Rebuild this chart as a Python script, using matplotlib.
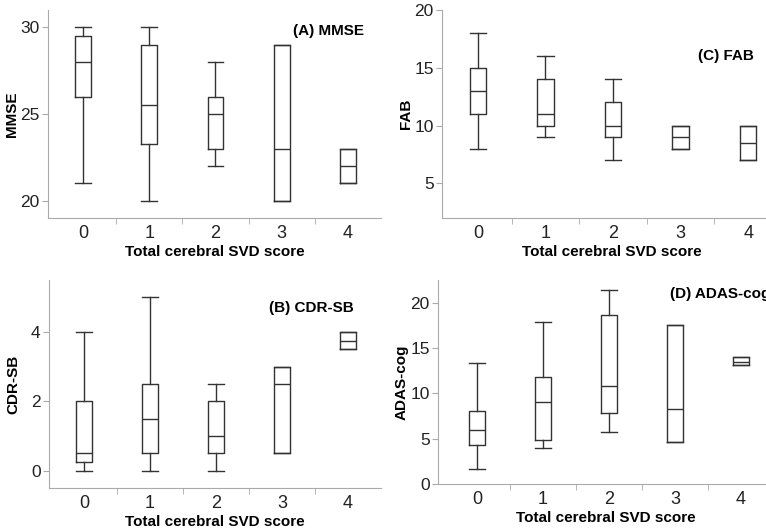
import matplotlib.pyplot as plt
from matplotlib.ticker import FixedLocator

plt.rcParams['font.family'] = ['Liberation Sans', 'DejaVu Sans']

scores = [0, 1, 2, 3, 4]

# each panel: whisker low, q1, median, q3, whisker high
mmse_lo = [21, 20, 22, 20, 21]
mmse_q1 = [26, 23.25, 23, 20, 21]
mmse_med = [28, 25.5, 25, 23, 22]
mmse_q3 = [29.5, 29, 26, 29, 23]
mmse_hi = [30, 30, 28, 29, 23]

cdr_lo = [0, 0, 0, 0.5, 3.5]
cdr_q1 = [0.25, 0.5, 0.5, 0.5, 3.5]
cdr_med = [0.5, 1.5, 1.0, 2.5, 3.75]
cdr_q3 = [2, 2.5, 2, 3, 4]
cdr_hi = [4, 5, 2.5, 3, 4]

fab_lo = [8, 9, 7, 8, 7]
fab_q1 = [11, 10, 9, 8, 7]
fab_med = [13, 11, 10, 9, 8.5]
fab_q3 = [15, 14, 12, 10, 10]
fab_hi = [18, 16, 14, 10, 10]

adas_lo = [1.7, 4.0, 5.7, 4.6, 13.1]
adas_q1 = [4.3, 4.9, 7.8, 4.6, 13.1]
adas_med = [6.0, 9.0, 10.8, 8.3, 13.5]
adas_q3 = [8.0, 11.8, 18.6, 17.5, 14.0]
adas_hi = [13.3, 17.9, 21.4, 17.5, 14.0]


def make_stats(lo, q1, med, q3, hi):
    return [dict(whislo=a, q1=b, med=c, q3=d, whishi=e, fliers=[])
            for a, b, c, d, e in zip(lo, q1, med, q3, hi)]


W, H = 766, 531
fig = plt.figure(figsize=(W / 100, H / 100), dpi=100)


def rect(left, right, top, bottom):
    return [left / W, (H - bottom) / H, (right - left) / W, (bottom - top) / H]


def draw_panel(box, stats, ylabel, title, ylim, yticks, xlim, title_xy):
    ax = fig.add_axes(rect(*box))
    lp = dict(color='#333333', linewidth=1.0)
    ax.bxp(stats, positions=scores, widths=0.24, showfliers=False,
           boxprops=lp, whiskerprops=lp, capprops=lp, medianprops=lp,
           capwidths=0.24)
    ax.set_xlim(*xlim)
    ax.set_ylim(*ylim)
    ax.set_yticks(yticks)
    ax.set_xticks(scores)
    ax.set_xticklabels([str(s) for s in scores])
    ax.xaxis.set_minor_locator(FixedLocator([0.5, 1.5, 2.5, 3.5]))
    ax.tick_params(axis='x', which='major', length=0, labelsize=13, pad=5, labelcolor='#222222')
    ax.tick_params(axis='x', which='minor', length=4, color='#aaaaaa')
    ax.tick_params(axis='y', length=4, pad=2, color='#aaaaaa', labelsize=12.5, labelcolor='#222222')
    for s in ['top', 'right']:
        ax.spines[s].set_visible(False)
    for s in ['left', 'bottom']:
        ax.spines[s].set_color('#aaaaaa')
    ax.set_xlabel('Total cerebral SVD score', fontsize=11, fontweight='bold', labelpad=2)
    ax.set_ylabel(ylabel, fontsize=11, fontweight='bold')
    width_px = box[1] - box[0]
    ax.yaxis.set_label_coords(-29 / width_px, 0.5)
    ax.text(title_xy[0], title_xy[1], title, transform=ax.transAxes,
            fontsize=11, fontweight='bold', ha='left', va='center')
    return ax


draw_panel((48, 381, 10, 218), make_stats(mmse_lo, mmse_q1, mmse_med, mmse_q3, mmse_hi),
           'MMSE', '(A) MMSE', (19, 31), [20, 25, 30], (-0.53, 4.5), (0.736, 0.9))
draw_panel((442, 782, 10, 218), make_stats(fab_lo, fab_q1, fab_med, fab_q3, fab_hi),
           'FAB', '(C) FAB', (2, 20), [5, 10, 15, 20], (-0.53, 4.5), (0.753, 0.78))
draw_panel((49, 381, 280, 488), make_stats(cdr_lo, cdr_q1, cdr_med, cdr_q3, cdr_hi),
           'CDR-SB', '(B) CDR-SB', (-0.5, 5.5), [0, 2, 4], (-0.53, 4.5), (0.663, 0.865))
draw_panel((438, 774, 280, 484), make_stats(adas_lo, adas_q1, adas_med, adas_q3, adas_hi),
           'ADAS-cog', '(D) ADAS-cog', (0, 22.5), [0, 5, 10, 15, 20], (-0.59, 4.5), (0.69, 0.93))

fig.savefig('out.png', dpi=100)
